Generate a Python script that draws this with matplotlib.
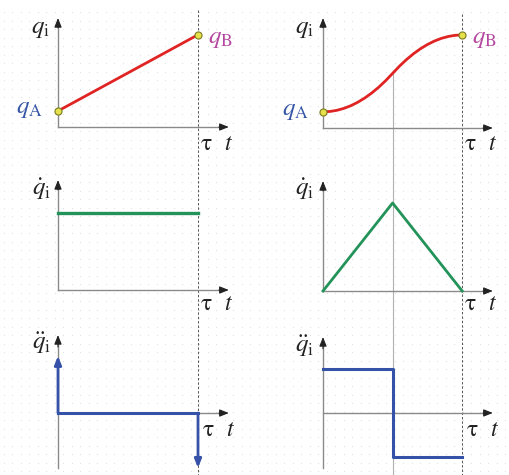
import matplotlib
matplotlib.use("Agg")
import matplotlib.pyplot as plt
import matplotlib.transforms as mtransforms
import numpy as np

plt.rcParams['mathtext.fontset'] = 'stix'
plt.rcParams['font.family'] = ['DejaVu Serif']

W, H = 510, 475

# time (tau = 1)
t_lin = [0.0, 1.0]
t_bang = [0.0, 0.05, 0.1, 0.15, 0.2, 0.25, 0.3, 0.35, 0.4, 0.45, 0.5,
          0.55, 0.6, 0.65, 0.7, 0.75, 0.8, 0.85, 0.9, 0.95, 1.0]

# position q (q_A = 0, q_B = 1)
q_lin = [0.0, 1.0]
q_bang = [0.0, 0.005, 0.02, 0.045, 0.08, 0.125, 0.18, 0.245, 0.32, 0.405, 0.5,
          0.595, 0.68, 0.755, 0.82, 0.875, 0.92, 0.955, 0.98, 0.995, 1.0]

# velocity
t_vel_lin = [0.0, 1.0]
v_lin = [1.0, 1.0]
t_vel_bang = [0.0, 0.5, 1.0]
v_bang = [0.0, 2.0, 0.0]

# acceleration
a_lin_t = [0.0, 1.0]
a_lin_impulse = [5.2, -5.0]
t_acc_bang = [0.0, 0.5, 0.5, 1.0]
a_bang = [4.0, 4.0, -4.0, -4.0]

RED = '#e02424'
GREEN = '#23935a'
BLUE = '#3552a8'
AXC = '#8a8a8a'
QA_C = '#3555a5'
QB_C = '#b4479f'

fig = plt.figure(figsize=(W / 100, H / 100), dpi=100)

# faint dotted paper background
bg = fig.add_axes([0, 0, 1, 1], zorder=-5)
bg.set_xlim(0, W)
bg.set_ylim(H, 0)
bg.axis('off')
gx, gy = np.meshgrid(np.arange(4, W, 8.5), np.arange(12, H, 8.5))
bg.scatter(gx.ravel(), gy.ravel(), s=0.6, color='#dcdcdc', linewidths=0)


def px_axes(left, top, right, bottom, ylim):
    ax = fig.add_axes([left / W, 1 - bottom / H, (right - left) / W, (bottom - top) / H])
    ax.set_xlim(0, 1.25)
    ax.set_ylim(*ylim)
    ax.axis('off')
    ax.patch.set_alpha(0)
    return ax


def draw_axes(ax, xaxis_y, ybottom):
    y0, y1 = ax.get_ylim()
    head = dict(arrowstyle='-|>,head_length=0.55,head_width=0.22',
                color='#222222', lw=0.8, shrinkA=0, shrinkB=0, mutation_scale=10)
    ax.plot([0, 1.17], [xaxis_y, xaxis_y], color=AXC, lw=1.0, clip_on=False, zorder=2)
    ax.plot([0, 0], [ybottom, y1 - (y1 - y0) * 0.07], color=AXC, lw=1.0, clip_on=False, zorder=2)
    ax.annotate('', xy=(1.22, xaxis_y), xytext=(1.15, xaxis_y), arrowprops=head)
    ax.annotate('', xy=(0, y1), xytext=(0, y1 - (y1 - y0) * 0.09), arrowprops=head)


def ftext(x, y, s, color='#222222', size=14):
    fig.text(x / W, 1 - y / H, s, color=color, fontsize=size, ha='center', va='center')


# axes panels
ax_ql = px_axes(58, 18, 233, 127, (-0.21, 1.22))
ax_qr = px_axes(323, 18, 497, 128, (-0.21, 1.22))
ax_vl = px_axes(58, 180, 233, 290, (0, 1.43))
ax_vr = px_axes(323, 181, 497, 291, (0, 2.5))
ax_al = px_axes(58, 335, 233, 468, (-5, 7.1))
ax_ar = px_axes(323, 337, 497, 468, (-5, 6.9))

for ax in (ax_ql, ax_qr):
    draw_axes(ax, -0.21, -0.21)
for ax in (ax_vl, ax_vr):
    draw_axes(ax, 0, 0)
for ax in (ax_al, ax_ar):
    draw_axes(ax, 0, -5)

# vertical guide lines
for ax, ytop in ((ax_ql, 10), (ax_qr, 14)):
    tr = mtransforms.blended_transform_factory(ax.transData, fig.transFigure)
    ax.plot([1, 1], [1 - ytop / H, 0], color='#555555', lw=0.7, ls=(0, (2.5, 2)),
            transform=tr, clip_on=False, zorder=1)
tr = mtransforms.blended_transform_factory(ax_qr.transData, fig.transFigure)
ax_qr.plot([0.5, 0.5], [1 - 73 / H, 0], color='#b0b0b0', lw=0.8,
           transform=tr, clip_on=False, zorder=1)

# position
ax_ql.plot(t_lin, q_lin, color=RED, lw=2.0, clip_on=False, zorder=3)
ax_ql.scatter(t_lin, q_lin, s=26, color='#e6e04a', edgecolor='#7a7a20', lw=0.8, zorder=4, clip_on=False)
ax_qr.plot(t_bang, q_bang, color=RED, lw=2.0, clip_on=False, zorder=3)
ax_qr.scatter([t_bang[0], t_bang[-1]], [q_bang[0], q_bang[-1]], s=26, color='#e6e04a',
              edgecolor='#7a7a20', lw=0.8, zorder=4, clip_on=False)

# velocity
ax_vl.plot(t_vel_lin, v_lin, color=GREEN, lw=2.4, clip_on=False, zorder=3)
ax_vr.plot(t_vel_bang, v_bang, color=GREEN, lw=2.0, clip_on=False, zorder=3)

# acceleration
ax_al.plot(a_lin_t, [0, 0], color=BLUE, lw=2.2, clip_on=False, zorder=3)
for tt, imp in zip(a_lin_t, a_lin_impulse):
    ax_al.annotate('', xy=(tt, imp), xytext=(tt, 0),
                   arrowprops=dict(arrowstyle='-|>,head_length=0.5,head_width=0.2',
                                   color=BLUE, lw=2.0, shrinkA=0, shrinkB=0,
                                   mutation_scale=10), zorder=3)
ax_ar.plot(t_acc_bang, a_bang, color=BLUE, lw=2.2, clip_on=False, zorder=3)

# labels
ftext(40, 28, r'$q_{\rm i}$', size=18)
ftext(304, 29, r'$q_{\rm i}$', size=18)
ftext(29, 109, r'$q_{\rm A}$', color=QA_C, size=18)
ftext(295, 111, r'$q_{\rm A}$', color=QA_C, size=18)
ftext(220, 39, r'$q_{\rm B}$', color=QB_C, size=18)
ftext(484, 39, r'$q_{\rm B}$', color=QB_C, size=18)
ftext(42, 189, r'$\dot{q}_{\rm i}$', size=18)
ftext(305, 189, r'$\dot{q}_{\rm i}$', size=18)
ftext(42, 343, r'$\ddot{q}_{\rm i}$', size=18)
ftext(305, 346, r'$\ddot{q}_{\rm i}$', size=18)

for xt, yt in ((206, 143), (470, 143), (206, 303), (470, 303), (208, 429), (472, 430)):
    ftext(xt, yt, r'$\mathrm{\tau}$', size=17)
    ftext(xt + 23, yt, r'$t$', size=17)

fig.savefig('out.png', dpi=100)
